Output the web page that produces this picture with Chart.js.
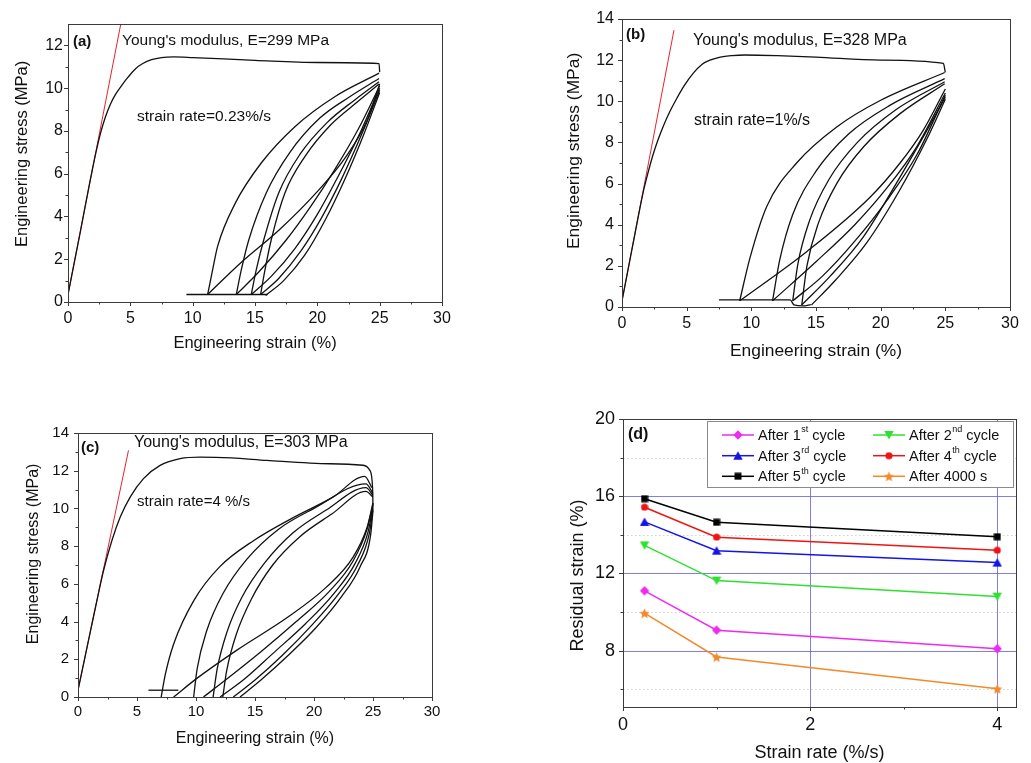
<!DOCTYPE html>
<html lang="en">
<head>
<meta charset="UTF-8">
<title>Cyclic tensile tests and residual strain</title>
<style>
  html, body { margin: 0; padding: 0; background: #fff; overflow: hidden; }
  body { width: 1031px; height: 763px; position: relative; font-family: "Liberation Sans", Arial, sans-serif; color: #111; }
  .panel { position: absolute; }
  .note { position: absolute; white-space: nowrap; line-height: 1; color: #111; }
  .tag { font-weight: bold; }
</style>
<script src="https://cdn.jsdelivr.net/npm/chart.js"></script>
</head>
<body>
<div class="panel" style="left:0;top:0"><canvas id="ca" width="460" height="370"></canvas></div>
<div class="panel" style="left:540px;top:0"><canvas id="cb" width="491" height="370"></canvas></div>
<div class="panel" style="left:0;top:410px"><canvas id="cc" width="460" height="353"></canvas></div>
<div class="panel" style="left:540px;top:400px"><canvas id="cd" width="491" height="380"></canvas></div>

<div class="note tag" style="left:73px;top:33px;font-size:15px">(a)</div>
<div class="note" style="left:122px;top:32px;font-size:15.5px">Young's modulus, E=299 MPa</div>
<div class="note" style="left:137px;top:108px;font-size:15.5px">strain rate=0.23%/s</div>

<div class="note tag" style="left:626px;top:26px;font-size:15px">(b)</div>
<div class="note" style="left:693px;top:32px;font-size:16px">Young's modulus, E=328 MPa</div>
<div class="note" style="left:694px;top:112px;font-size:16px">strain rate=1%/s</div>

<div class="note tag" style="left:81px;top:439px;font-size:15px">(c)</div>
<div class="note" style="left:134px;top:434px;font-size:16px">Young's modulus, E=303 MPa</div>
<div class="note" style="left:137px;top:493px;font-size:15px">strain rate=4 %/s</div>

<div class="note tag" style="left:628px;top:426px;font-size:16px">(d)</div>

<script>
// ---- tick values ----
const strainTicks = [0, 5, 10, 15, 20, 25, 30];
const strainMinor = [2.5, 7.5, 12.5, 17.5, 22.5, 27.5];
const stressTicksA = [0, 2, 4, 6, 8, 10, 12];
const stressTicks = [0, 2, 4, 6, 8, 10, 12, 14];
const stressMinor = [1, 3, 5, 7, 9, 11, 13];
const rateTicks = [0, 2, 4];
const rateMinor = [1, 3];
const residualTicks = [8, 12, 16, 20];
const residualMinor = [6, 10, 14, 18];

// ---- (a) strain rate 0.23 %/s : [strain %, stress MPa] ----
const aYoung = [[0, 0.35], [4.25, 13.05]];
const aLoad = [[0, 0.35], [1, 3.32], [1.7, 5.45], [2.0, 6.33], [2.3, 7.15], [2.6, 7.88], [3.0, 8.65], [3.4, 9.25], [3.8, 9.7], [4.3, 10.12], [4.8, 10.5], [5.4, 10.9], [6.0, 11.15], [6.7, 11.33], [7.5, 11.43], [8.5, 11.46], [10, 11.43], [15, 11.3], [20, 11.2], [24.95, 11.15], [25, 10.75]];
const aUp2 = [[11.2, 0.35], [11.6, 1.5], [12.0, 2.6], [13.4, 4.6], [15.5, 6.5], [18.2, 8.2], [21.4, 9.6], [24.95, 10.7]];
const aUp3 = [[13.5, 0.35], [13.9, 1.5], [14.5, 2.9], [15.9, 5.1], [17.8, 7.0], [20.2, 8.6], [22.6, 9.6], [24.95, 10.45]];
const aUp4 = [[14.7, 0.35], [15.1, 1.5], [15.7, 2.9], [16.9, 5.1], [18.6, 6.9], [20.8, 8.4], [23, 9.45], [24.95, 10.3]];
const aUp5 = [[15.45, 0.35], [15.8, 1.5], [16.3, 2.9], [17.4, 5.1], [19.0, 6.8], [21.1, 8.3], [23.2, 9.35], [24.95, 10.2]];
const aDown1 = [[11.2, 0.35], [13.8, 1.8], [17, 3.4], [19.9, 5.1], [22.3, 6.8], [24, 8.5], [25, 10.2]];
const aDown2 = [[13.5, 0.35], [15.3, 1.4], [17.5, 2.9], [19.5, 4.5], [21.3, 6.1], [23.3, 8.1], [25, 10.1]];
const aDown3 = [[14.7, 0.35], [16.3, 1.2], [18.2, 2.5], [20, 4.1], [21.6, 5.8], [23.5, 8.0], [25, 10.0]];
const aDown4 = [[15.45, 0.35], [16.9, 1.1], [18.7, 2.4], [20.3, 3.9], [21.9, 5.7], [23.6, 7.9], [25, 9.9]];
const aDown5 = [[15.85, 0.3], [17.3, 1.0], [19.0, 2.2], [20.6, 3.8], [22.1, 5.6], [23.7, 7.8], [25, 9.8]];
const aHold = [[9.5, 0.35], [16, 0.35]];

// ---- (b) strain rate 1 %/s ----
const bYoung = [[0, 0.3], [4.02, 13.46]];
const bLoad = [[0, 0.3], [1.0, 3.55], [1.4, 4.85], [1.7, 5.75], [2.0, 6.5], [2.4, 7.4], [2.8, 8.15], [3.2, 8.8], [3.7, 9.5], [4.2, 10.1], [4.8, 10.75], [5.5, 11.36], [6.2, 11.8], [6.8, 12.0], [7.6, 12.15], [8.5, 12.22], [9.5, 12.25], [12, 12.22], [15, 12.15], [20, 12.0], [24.85, 11.84], [25, 11.4]];
const bUp2 = [[9.1, 0.3], [9.9, 2.4], [11.2, 4.9], [13.5, 7.0], [16.6, 8.75], [20, 10.05], [24.95, 11.4]];
const bUp3 = [[11.64, 0.3], [12.2, 2.3], [13.2, 4.5], [15, 6.6], [17.5, 8.4], [20.7, 9.8], [24.95, 11.1]];
const bUp4 = [[13.2, 0.3], [13.6, 2.1], [14.5, 4.2], [16, 6.2], [18.2, 8.0], [21.2, 9.6], [24.95, 10.95]];
const bUp5 = [[13.9, 0.1], [14.3, 2.0], [15.2, 4.1], [16.6, 6.0], [18.7, 7.8], [21.5, 9.4], [24.95, 10.85]];
const bDown1 = [[9.1, 0.3], [14.3, 2.7], [19.2, 5.35], [21.5, 7.0], [23.3, 8.6], [25, 10.6]];
const bDown2 = [[11.64, 0.3], [15, 2.2], [18, 4.0], [20.5, 5.8], [22.8, 7.8], [25, 10.4]];
const bDown3 = [[13.2, 0.3], [15.5, 1.5], [18, 3.2], [20.5, 5.2], [22.8, 7.4], [25, 10.3]];
const bDown4 = [[13.9, 0.1], [16.1, 1.5], [18.65, 3.4], [21.2, 6.0], [23.5, 8.5], [25, 10.2]];
const bDown5 = [[14.65, 0.1], [16.5, 1.3], [18.9, 3.1], [21.4, 5.6], [23.6, 8.2], [25, 10.1]];
const bHold = [[7.5, 0.35], [13, 0.35], [13.3, 0.1], [14, 0.05], [14.6, 0.12]];

// ---- (c) strain rate 4 %/s ----
const cYoung = [[0, 0.36], [4.28, 13.08]];
const cLoad = [[0, 0.36], [1, 3.33], [1.8, 5.7], [2.17, 6.72], [2.88, 8.31], [3.58, 9.54], [4.42, 10.6], [5.55, 11.58], [6.96, 12.28], [8.65, 12.64], [10.35, 12.72], [13, 12.68], [16, 12.55], [21.35, 12.37], [24.16, 12.29], [24.73, 12.02], [24.96, 11.13], [25, 10.1]];
const cUp2 = [[7.05, 0], [7.4, 1.2], [8.1, 2.8], [9.8, 5.1], [12, 6.9], [14.9, 8.3], [18.2, 9.5], [21.6, 10.6], [24.3, 11.7], [24.9, 11.1]];
const cUp3 = [[9.8, 0], [10.1, 1.5], [10.9, 3.5], [12.3, 5.5], [14.3, 7.3], [17, 8.9], [20, 10.0], [24.4, 11.3], [25, 10.8]];
const cUp4 = [[11.45, 0], [11.8, 1.5], [12.6, 3.4], [13.9, 5.3], [15.8, 7.1], [18.2, 8.7], [21, 9.9], [24.4, 11.1], [25, 10.7]];
const cUp5 = [[12.27, 0], [12.6, 1.4], [13.4, 3.3], [14.7, 5.2], [16.5, 7.0], [18.8, 8.5], [21.5, 9.7], [24.4, 10.9], [25, 10.6]];
const cDown1 = [[8.1, 0], [10.1, 1.0], [13.5, 2.5], [17.7, 4.2], [21, 5.8], [23.3, 7.4], [24.5, 9.0], [25, 10.3]];
const cDown2 = [[10.63, 0], [12.5, 0.9], [15.5, 2.4], [18.5, 4.0], [21.3, 5.6], [23.3, 7.2], [24.5, 8.9], [25, 10.2]];
const cDown3 = [[12.04, 0], [14, 0.9], [16.5, 2.3], [19.3, 3.9], [21.7, 5.5], [23.5, 7.1], [24.6, 8.8], [25, 10.1]];
const cDown4 = [[13.16, 0], [15, 0.9], [17.3, 2.2], [19.8, 3.8], [22, 5.4], [23.7, 7.0], [24.7, 8.7], [25, 10.0]];
const cDown5 = [[13.73, 0], [15.5, 0.9], [17.8, 2.2], [20.2, 3.7], [22.3, 5.3], [23.9, 6.9], [24.8, 8.6], [25, 9.9]];
const cHold = [[5.97, 0.36], [8.5, 0.36]];

// ---- (d) residual strain vs strain rate ----
const dRate = [0.23, 1, 4];
const d1st = [11.1, 9.06, 8.1];
const d2nd = [13.45, 11.63, 10.8];
const d3rd = [14.67, 13.18, 12.56];
const d4th = [15.43, 13.88, 13.2];
const d5th = [15.87, 14.65, 13.9];
const d4000 = [9.94, 7.67, 6.02];
const dLabels = [['After 1', 'st', ' cycle'], ['After 2', 'nd', ' cycle'], ['After 3', 'rd', ' cycle'], ['After 4', 'th', ' cycle'], ['After 5', 'th', ' cycle'], ['After 4000 s', '', '']];

Chart.defaults.font.family = '"Liberation Sans", Arial, sans-serif';
Chart.defaults.color = '#111';
Chart.defaults.animation = false;

// frame, tick marks and optional grid drawn from the chart scales
const framePlugin = {
  id: 'frame',
  beforeDatasetsDraw(chart, args, o) {
    if (!o.grid) return;
    const { ctx, chartArea: a, scales: { x, y } } = chart;
    ctx.save();
    ctx.lineWidth = 1;
    ctx.strokeStyle = '#c9d9c4';
    ctx.setLineDash([1.5, 2.5]);
    o.grid.yMinor.forEach(v => { const p = Math.round(y.getPixelForValue(v)) + 0.5; ctx.beginPath(); ctx.moveTo(a.left, p); ctx.lineTo(a.right, p); ctx.stroke(); });
    o.grid.xMinor.forEach(v => { const p = Math.round(x.getPixelForValue(v)) + 0.5; ctx.beginPath(); ctx.moveTo(p, a.top); ctx.lineTo(p, a.bottom); ctx.stroke(); });
    ctx.setLineDash([]);
    ctx.strokeStyle = 'rgba(95,95,225,0.8)';
    o.grid.yMajor.forEach(v => { const p = Math.round(y.getPixelForValue(v)) + 0.5; ctx.beginPath(); ctx.moveTo(a.left, p); ctx.lineTo(a.right, p); ctx.stroke(); });
    o.grid.xMajor.forEach(v => { const p = Math.round(x.getPixelForValue(v)) + 0.5; ctx.beginPath(); ctx.moveTo(p, a.top); ctx.lineTo(p, a.bottom); ctx.stroke(); });
    ctx.restore();
  },
  afterDatasetsDraw(chart, args, o) {
    const { ctx, chartArea: a, scales: { x, y } } = chart;
    ctx.save();
    ctx.strokeStyle = '#3a3a3a';
    ctx.lineWidth = 1;
    ctx.strokeRect(a.left + 0.5, a.top + 0.5, a.right - a.left, a.bottom - a.top);
    const tick = (vals, len, axis) => vals.forEach(v => {
      ctx.beginPath();
      if (axis === 'x') {
        const p = Math.round(x.getPixelForValue(v)) + 0.5;
        ctx.moveTo(p, a.bottom); ctx.lineTo(p, a.bottom + len);
      } else {
        const p = Math.round(y.getPixelForValue(v)) + 0.5;
        ctx.moveTo(a.left, p); ctx.lineTo(a.left - len, p);
      }
      ctx.stroke();
    });
    tick(o.xMajor, 4, 'x'); tick(o.xMinor, 2.5, 'x');
    tick(o.yMajor, 4, 'y'); tick(o.yMinor, 2.5, 'y');
    ctx.restore();
  }
};

function curve(pts, color, width) {
  const c = {
    data: pts.map(([x, y]) => ({ x, y })),
    showLine: true, pointRadius: 0, fill: false,
    borderColor: color || '#111', borderWidth: width || 1.3
  };
  if (color) c.tension = 0;
  else c.cubicInterpolationMode = 'monotone';
  return c;
}

function loopChart(id, box, curves, young, yMax, yTicks, fonts, pads, yTitle) {
  const sets = curves.map(c => curve(c));
  sets.push(curve(young, '#e4252e', 1));
  return new Chart(document.getElementById(id), {
    type: 'scatter',
    data: { datasets: sets },
    options: {
      responsive: false,
      events: [],
      layout: { padding: { top: box.top, right: box.right, left: 0, bottom: 0 } },
      plugins: {
        legend: { display: false }, tooltip: { enabled: false },
        frame: { xMajor: strainTicks, xMinor: strainMinor, yMajor: yTicks, yMinor: stressMinor.filter(v => v < yMax) }
      },
      scales: {
        x: {
          type: 'linear', min: 0, max: 30,
          afterFit: s => { s.height = box.xh; },
          afterBuildTicks: s => { s.ticks = strainTicks.map(value => ({ value })); },
          grid: { display: false, drawTicks: false }, border: { display: false },
          ticks: { font: { size: fonts.tick }, padding: pads.xt, maxRotation: 0, autoSkip: false },
          title: { display: true, text: 'Engineering strain (%)', font: { size: fonts.title }, padding: { bottom: pads.xTitle, top: 0 } }
        },
        y: {
          type: 'linear', min: 0, max: yMax,
          afterFit: s => { s.width = box.yw; },
          afterBuildTicks: s => { s.ticks = yTicks.map(value => ({ value })); },
          grid: { display: false, drawTicks: false }, border: { display: false },
          ticks: { font: { size: fonts.tick }, padding: pads.yt, autoSkip: false },
          title: { display: true, text: yTitle, font: { size: fonts.title }, padding: { top: pads.yTitle, bottom: 0 } }
        }
      }
    },
    plugins: [framePlugin]
  });
}

// leading spaces nudge the rotated titles upward, as in the original figure
loopChart('ca', { top: 24, right: 18, xh: 68, yw: 68 },
  [aLoad, aUp2, aUp3, aUp4, aUp5, aDown1, aDown2, aDown3, aDown4, aDown5, aHold], aYoung, 13, stressTicksA,
  { tick: 16, title: 16.5 }, { xt: 7, yt: 5, xTitle: 17, yTitle: 13 }, '    Engineering stress (MPa)');

loopChart('cb', { top: 19, right: 21, xh: 63, yw: 82 },
  [bLoad, bUp2, bUp3, bUp4, bUp5, bDown1, bDown2, bDown3, bDown4, bDown5, bHold], bYoung, 14, stressTicks,
  { tick: 16, title: 17.4 }, { xt: 7, yt: 8, xTitle: 8, yTitle: 24 }, '     Engineering stress (MPa)');

loopChart('cc', { top: 23, right: 28, xh: 66, yw: 78 },
  [cLoad, cUp2, cUp3, cUp4, cUp5, cDown1, cDown2, cDown3, cDown4, cDown5, cHold], cYoung, 14, stressTicks,
  { tick: 15, title: 16 }, { xt: 6, yt: 9, xTitle: 15, yTitle: 24 }, '     Engineering stress (MPa)');

// ---- markers for (d) ----
function marker(kind, color, size) {
  const c = document.createElement('canvas');
  c.width = c.height = size;
  const g = c.getContext('2d');
  const m = size / 2;
  g.fillStyle = color;
  g.beginPath();
  if (kind === 'diamond') { g.moveTo(m, 0.3); g.lineTo(size - 0.3, m); g.lineTo(m, size - 0.3); g.lineTo(0.3, m); }
  else if (kind === 'up') { g.moveTo(m, 0.5); g.lineTo(size - 0.3, size - 1); g.lineTo(0.3, size - 1); }
  else if (kind === 'down') { g.moveTo(0.3, 1); g.lineTo(size - 0.3, 1); g.lineTo(m, size - 0.5); }
  else if (kind === 'circle') { g.arc(m, m, m - 0.4, 0, Math.PI * 2); }
  else if (kind === 'square') { g.rect(0.5, 0.5, size - 1, size - 1); }
  else {
    for (let i = 0; i < 10; i++) {
      const r = i % 2 ? m * 0.45 : m - 0.2;
      const ang = -Math.PI / 2 + i * Math.PI / 5;
      const px = m + r * Math.cos(ang), py = m + r * Math.sin(ang) + 0.6;
      if (i) g.lineTo(px, py); else g.moveTo(px, py);
    }
  }
  g.closePath();
  g.fill();
  return c;
}

const dSeries = [d1st, d2nd, d3rd, d4th, d5th, d4000];
const dColors = ['#ee2bee', '#30e030', '#1414e6', '#ee1414', '#000000', '#f28a2c'];
const dMarks = [marker('diamond', dColors[0], 10), marker('down', dColors[1], 10), marker('up', dColors[2], 10),
  marker('circle', dColors[3], 8), marker('square', dColors[4], 8), marker('star', dColors[5], 11)];

const legendPlugin = {
  id: 'boxLegend',
  afterDraw(chart) {
    const ctx = chart.ctx;
    const bx = 167, by = 21, bw = 306, bh = 66;
    const big = '14.5px "Liberation Sans", Arial, sans-serif';
    const small = '9px "Liberation Sans", Arial, sans-serif';
    ctx.save();
    ctx.fillStyle = '#fff';
    ctx.fillRect(bx, by, bw, bh);
    ctx.strokeStyle = '#8a8a8a';
    ctx.lineWidth = 1;
    ctx.strokeRect(bx + 0.5, by + 0.5, bw, bh);
    const rows = [35, 55.7, 76.3];
    const cols = [182, 333];
    dLabels.forEach((lab, i) => {
      const x0 = cols[i % 2], yc = rows[Math.floor(i / 2)];
      ctx.strokeStyle = dColors[i];
      ctx.lineWidth = 1.5;
      ctx.beginPath(); ctx.moveTo(x0, yc); ctx.lineTo(x0 + 32, yc); ctx.stroke();
      const mk = dMarks[i];
      ctx.drawImage(mk, x0 + 16 - mk.width / 2, yc - mk.height / 2);
      let tx = x0 + 36;
      ctx.fillStyle = '#111';
      ctx.textBaseline = 'middle';
      ctx.textAlign = 'left';
      ctx.font = big;
      ctx.fillText(lab[0], tx, yc + 1);
      tx += ctx.measureText(lab[0]).width;
      if (lab[1]) {
        ctx.font = small;
        ctx.fillText(lab[1], tx + 0.5, yc - 5);
        tx += ctx.measureText(lab[1]).width + 0.5;
        ctx.font = big;
        ctx.fillText(lab[2], tx, yc + 1);
      }
    });
    ctx.restore();
  }
};

new Chart(document.getElementById('cd'), {
  type: 'scatter',
  data: {
    datasets: dSeries.map((s, i) => ({
      label: dLabels[i].join(''),
      data: dRate.map((x, j) => ({ x, y: s[j] })),
      showLine: true, tension: 0,
      borderColor: dColors[i], borderWidth: 1.5,
      pointStyle: dMarks[i], pointRadius: 5
    }))
  },
  options: {
    responsive: false,
    events: [],
    layout: { padding: { top: 19, right: 15, left: 0, bottom: 0 } },
    plugins: {
      legend: { display: false }, tooltip: { enabled: false },
      frame: {
        xMajor: rateTicks, xMinor: rateMinor, yMajor: residualTicks, yMinor: residualMinor,
        grid: { xMajor: [2, 4], xMinor: [], yMajor: [8, 12, 16], yMinor: residualMinor }
      }
    },
    scales: {
      x: {
        type: 'linear', min: 0, max: 4.2,
        afterFit: s => { s.height = 73; },
        afterBuildTicks: s => { s.ticks = rateTicks.map(value => ({ value })); },
        grid: { display: false, drawTicks: false }, border: { display: false },
        ticks: { font: { size: 18 }, padding: 7, maxRotation: 0, autoSkip: false },
        title: { display: true, text: 'Strain rate (%/s)', font: { size: 18 }, padding: { bottom: 16, top: 0 } }
      },
      y: {
        type: 'linear', min: 5.08, max: 20,
        afterFit: s => { s.width = 83; },
        afterBuildTicks: s => { s.ticks = residualTicks.map(value => ({ value })); },
        grid: { display: false, drawTicks: false }, border: { display: false },
        ticks: { font: { size: 18 }, padding: 8, autoSkip: false },
        // trailing spaces move the rotated title down slightly, as in the original
        title: { display: true, text: 'Residual strain (%)     ', font: { size: 18 }, padding: { top: 27, bottom: 0 } }
      }
    }
  },
  plugins: [framePlugin, legendPlugin]
});
</script>
</body>
</html>
